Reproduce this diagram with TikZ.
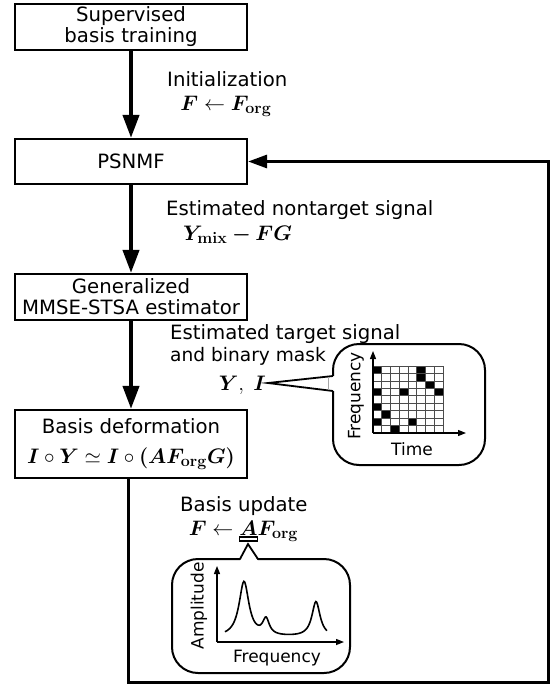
\RequirePackage{fix-cm}
\documentclass[tikz,border=0pt]{standalone}
\usepackage[no-math]{fontspec}
\setmainfont{DejaVu Sans}
\usepackage{bm}
\DeclareMathSizes{19.7}{21}{16}{13}
\usetikzlibrary{arrows.meta}

\begin{document}
\begin{tikzpicture}[x=1pt,y=-1pt,
	block/.style={draw,line width=2.2pt,minimum width=232pt,inner sep=2pt,align=center,font=\fontsize{19.7}{21}\selectfont},
	flow/.style={line width=4pt,-{Triangle[length=23pt,width=16pt]}},
	back/.style={line width=3pt,-{Triangle[length=19pt,width=13pt]}},
	lbl/.style={inner sep=0pt,font=\fontsize{19.7}{22}\selectfont},
	small/.style={inner sep=0pt,font=\fontsize{17}{20}\selectfont},
	bubble/.style={draw,line width=2pt,rounded corners=26pt,fill=white,inner sep=0pt},
	pointer/.style={draw,line width=1.8pt,fill=white},
	axis/.style={line width=1.3pt,-{Triangle[length=8pt,width=6pt]}}]
	\useasboundingbox (0,0) rectangle (553,686);

	\node[block,minimum height=46pt] (train) at (131,27) {Supervised\\basis training};
	\node[block,minimum height=45pt] (psnmf) at (131,161.5) {PSNMF};
	\node[block,minimum height=46pt] (mmse) at (131,297) {Generalized\\MMSE-STSA estimator};
	\node[block,minimum height=68pt] (deform) at (131,444) {Basis deformation\\[9pt]$\bm{I}\circ\bm{Y}\simeq\bm{I}\circ\bm{(}\bm{A}\bm{F}_{\mathbf{org}}\bm{G}\bm{)}$};

	\draw[flow] (train) -- (psnmf);
	\draw[flow] (psnmf) -- (mmse);
	\draw[flow] (mmse) -- (deform);

	\coordinate (corner) at (548,682);
	\draw[back] ([xshift=-3pt]deform.south) |- (corner) |- (psnmf.east);

	\node[lbl,anchor=base west] (init) at (167,86) {Initialization};
	\node[lbl,anchor=base] (initeq) at (226,110) {$\bm{F}\leftarrow\bm{F}_{\mathbf{org}}$};
	\node[lbl,anchor=base west] (nontgt) at (166,215) {Estimated nontarget signal};
	\node[lbl,anchor=base west] (nontgteq) at (183,240) {$\bm{Y}_{\mathbf{mix}}\bm{-}\bm{F}\bm{G}$};
	\node[lbl,anchor=base west] (tgt) at (170,339) {Estimated target signal};
	\node[lbl,anchor=base west,font=\fontsize{18.6}{22}\selectfont] (tgt2) at (170,361) {and binary mask};
	\node[lbl,anchor=base east] (yi) at (266,390) {$\bm{Y},\;\bm{I}$};

	\node[bubble,minimum width=152pt,minimum height=121pt] (maskbub) at (409,404.5) {};
	\coordinate (tip1) at (268,383);
	\path[pointer,draw=none] (335,376) -- (tip1) -- (335,391) -- cycle;
	\draw[line width=1.8pt] (333,376) -- (tip1) -- (333,391);
	\draw[black!35,line width=0.8pt] (328,377) -- (328,390);
	\foreach \c/\r in {0/0,5/0,5/1,6/2,0/3,3/3,7/3,0/5,1/6,0/7,4/7,2/8}
		\fill (373+\c*8.75,366+\r*7.444) rectangle ++(8.75,7.444);
	\foreach \i in {0,...,8}
		\draw[black!70,line width=0.7pt] (373+\i*8.75,366) -- ++(0,67);
	\foreach \j in {0,...,9}
		\draw[black!70,line width=0.7pt] (373,366+\j*7.444) -- ++(70,0);
	\coordinate (o1) at (373,433);
	\draw[axis] (o1) -- ++(0,-82);
	\draw[axis] (o1) -- ++(93,0);
	\node[small,rotate=90] (freq1) at (356,396) {Frequency};
	\node[small] (time) at (412,449) {Time};

	\node[lbl,anchor=base west] (upd) at (180,511) {Basis update};
	\node[lbl,anchor=base] (updeq) at (243.5,535) {$\bm{F}\leftarrow\bm{A}\bm{F}_{\mathbf{org}}$};
	\node[draw,line width=1.2pt,minimum width=18pt,minimum height=4pt,inner sep=0pt] (amark) at (248.5,539) {};
	\node[bubble,minimum width=178pt,minimum height=114pt] (ampbub) at (261,616) {};
	\coordinate (tip2) at (248,544);
	\path[pointer,draw=none] (240,561) -- (tip2) -- (258,561) -- cycle;
	\draw[line width=1.8pt] (240,559) -- (tip2) -- (258,559);
	\coordinate (o2) at (217,642);
	\draw[axis] (o2) -- ++(0,-76);
	\draw[axis] (o2) -- ++(127,0);
	\draw[line width=1.6pt] plot[domain=225:327,samples=120,smooth]
		(\x,{642-5-55/(1+((\x-244)/6)^2)-16/(1+((\x-266)/4)^2)-35/(1+((\x-316)/5)^2)});
	\node[small,rotate=90] (amp) at (199,606) {Amplitude};
	\node[small] (freq2) at (277,658) {Frequency};
\end{tikzpicture}
\end{document}
